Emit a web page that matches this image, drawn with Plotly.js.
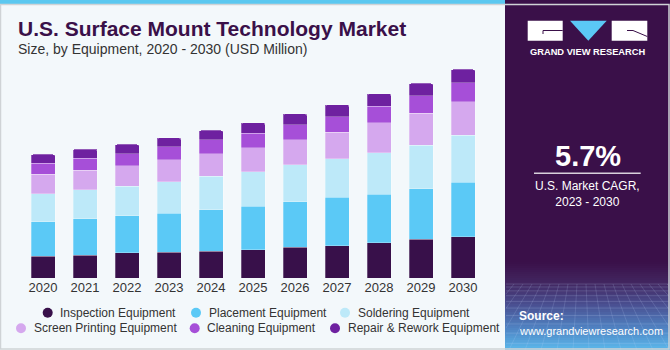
<!DOCTYPE html>
<html>
<head>
<meta charset="utf-8">
<script src="https://cdn.plot.ly/plotly-3.0.1.min.js"></script>
<style>html,body{margin:0;padding:0;background:#f3f8fb;}#chart{width:670px;height:350px;}</style>
</head>
<body>
<div id="chart"></div>
<script>
// ---- data (USD Million) ----
const years = ['2020','2021','2022','2023','2024','2025','2026','2027','2028','2029','2030'];
const seriesNames = ['Inspection Equipment','Placement Equipment','Soldering Equipment','Screen Printing Equipment','Cleaning Equipment','Repair & Rework Equipment'];
const inspection   = [170.8, 178.5, 194.1, 201.8, 209.6, 219.7, 238.3, 250.7, 274.0, 299.6, 320.6];
const placement    = [266.2, 281.8, 289.5, 302.7, 320.6, 336.1, 354.7, 374.9, 374.9, 393.5, 424.6];
const soldering    = [217.3, 225.1, 230.5, 243.0, 258.5, 269.3, 284.9, 300.4, 323.7, 339.2, 361.7];
const screenPrint  = [149.8, 152.9, 157.6, 170.8, 176.2, 186.3, 194.1, 207.2, 232.9, 245.3, 259.3];
const cleaning     = [ 88.5,  93.1,  93.1,  98.6, 108.7, 114.1, 116.4, 118.8, 129.6, 137.4, 147.5];
const repair       = [ 66.8,  69.9,  72.2,  69.9,  72.2,  79.9,  85.4,  93.1,  95.5,  95.5, 105.6];
const totalLabels  = ['$959.4M', '$99.1M'];
const cagrText = '5.7%';
const cagrLabel = 'U.S. Market CAGR,<br>2023 - 2030';

const seriesValues = [inspection, placement, soldering, screenPrint, cleaning, repair];
const colors = ['#38104a', '#5bc9f6', '#bde9f9', '#d5a8ee', '#a64fd8', '#6e21a0'];

// ---- geometry helpers ----
const W = 670, H = 350, ML = 22, MR = 186, MT = 60, MB = 72;
const PW = W - ML - MR, PH = H - MT - MB;
const px = x => (x - ML) / PW;
const py = y => (H - MB - y) / PH;
const FONT = 'Liberation Sans, Arial, sans-serif';

const traces = seriesValues.map((vals, i) => ({
  type: 'bar', x: years, y: vals, name: seriesNames[i],
  marker: {color: colors[i], line: {width: 0.6, color: 'rgba(255,255,255,0.45)'}},
  showlegend: false, hoverinfo: 'skip'
}));

const totals = years.map((_, j) => seriesValues.reduce((s, arr) => s + arr[j], 0));

const shapes = [];
const annotations = [];

// top blue stripe
shapes.push({type:'rect', xref:'paper', yref:'paper', x0:px(0), x1:px(506), y0:py(4.5), y1:py(0), fillcolor:'#5bc8f0', line:{width:0}, layer:'below'});

// right panel
shapes.push({type:'rect', xref:'paper', yref:'paper', x0:px(505), x1:px(670), y0:py(350), y1:py(0), fillcolor:'#3a1049', line:{width:0}, layer:'above'});
// bottom gradient of panel
const stops = [[262,[58,16,73]],[283,[66,38,96]],[305,[74,80,146]],[330,[80,135,198]],[350,[92,186,236]]];
function colAt(y){
  for(let k=0;k<stops.length-1;k++){
    const a=stops[k], b=stops[k+1];
    if(y>=a[0] && y<=b[0]){
      const t=(y-a[0])/(b[0]-a[0]);
      const c=a[1].map((v,i)=>Math.round(v+(b[1][i]-v)*t));
      return 'rgb('+c.join(',')+')';
    }
  }
  return 'rgb(92,186,236)';
}
for(let y=262; y<350; y+=2){
  shapes.push({type:'rect', xref:'paper', yref:'paper', x0:px(505), x1:px(670), y0:py(y+2.2), y1:py(y), fillcolor:colAt(y+1), line:{width:0}, layer:'above'});
}
// faint perspective grid (clipped to panel)
const PX0 = 506, PX1 = 669;
let gy = 284, step = 3;
while (gy < 350) {
  shapes.push({type:'line', xref:'paper', yref:'paper', x0:px(PX0), x1:px(PX1), y0:py(gy), y1:py(gy), line:{color:'rgba(200,220,255,0.18)', width:1}, layer:'above'});
  gy += step; step += 0.9;
}
for (let k = -10; k <= 26; k++) {
  let xa = 505 + k * 9, ya = 284;
  let xb = 505 + k * 16 - 60, yb = 350;
  // clip segment to [PX0, PX1]
  const clip = (xv) => { const t = (xv - xa) / (xb - xa); return [xv, ya + (yb - ya) * t]; };
  let p0 = [xa, ya], p1 = [xb, yb];
  if (xa < PX0 && xb < PX0) continue;
  if (xa > PX1 && xb > PX1) continue;
  if (p0[0] < PX0) p0 = clip(PX0);
  if (p0[0] > PX1) p0 = clip(PX1);
  if (p1[0] < PX0) p1 = clip(PX0);
  if (p1[0] > PX1) p1 = clip(PX1);
  shapes.push({type:'line', xref:'paper', yref:'paper', x0:px(p0[0]), x1:px(p1[0]), y0:py(p0[1]), y1:py(p1[1]), line:{color:'rgba(200,220,255,0.16)', width:1}, layer:'above'});
}

// logo
shapes.push({type:'rect', xref:'paper', yref:'paper', x0:px(527.7), x1:px(562.7), y0:py(40.7), y1:py(20.7), fillcolor:'#ffffff', line:{width:0}, layer:'above'});
shapes.push({type:'path', xref:'paper', yref:'paper', path:'M '+px(570)+','+py(20.7)+' L '+px(606.7)+','+py(20.7)+' L '+px(588.3)+','+py(40.7)+' Z', fillcolor:'#5bc8f5', line:{width:0}, layer:'above'});
shapes.push({type:'rect', xref:'paper', yref:'paper', x0:px(611.7), x1:px(647.3), y0:py(40.7), y1:py(20.7), fillcolor:'#ffffff', line:{width:0}, layer:'above'});
shapes.push({type:'path', xref:'paper', yref:'paper', path:'M '+px(543)+','+py(34)+' L '+px(543)+','+py(30.5)+' L '+px(562.7)+','+py(30.5), line:{color:'#3a1049', width:1}, layer:'above'});
shapes.push({type:'path', xref:'paper', yref:'paper', path:'M '+px(627)+','+py(30.5)+' L '+px(633)+','+py(30.5)+' L '+px(647.3)+','+py(36.5), line:{color:'#3a1049', width:1}, layer:'above'});
// CAGR underline
shapes.push({type:'line', xref:'paper', yref:'paper', x0:px(534), x1:px(640.7), y0:py(173.3), y1:py(173.3), line:{color:'#d8d0dc', width:1.5}, layer:'above'});

// outer border
shapes.push({type:'rect', xref:'paper', yref:'paper', x0:px(0.5), x1:px(669), y0:py(349), y1:py(4.5), fillcolor:'rgba(0,0,0,0)', line:{color:'#cfd3d6', width:1.5}, layer:'above'});

// texts
annotations.push({xref:'paper', yref:'paper', x:px(16), y:py(28.5), xanchor:'left', yanchor:'middle', showarrow:false,
  text:'<b>U.S. Surface Mount Technology Market</b>', font:{family:FONT, size:21, color:'#3a1049'}});
annotations.push({xref:'paper', yref:'paper', x:px(16), y:py(49), xanchor:'left', yanchor:'middle', showarrow:false,
  text:'Size, by Equipment, 2020 - 2030 (USD Million)', font:{family:FONT, size:14, color:'#333333'}});

// bar total labels
const labelShift = [11, 24.5];
totalLabels.forEach((t, j) => annotations.push({x: years[j], y: totals[j], xref:'x', yref:'y', yanchor:'bottom', xanchor:'center', yshift: labelShift[j], showarrow:false,
  text: t, font:{family:FONT, size:13.5, color:'#333333'}}));

// legend (manual, centered rows)
const legendPos = [[47.7,312.7],[196,312.7],[345,312.7],[21,328.3],[194.7,328.3],[335,328.3]];
seriesNames.forEach((n, i) => {
  const [lx, ly] = legendPos[i];
  shapes.push({type:'circle', xref:'paper', yref:'paper', xsizemode:'pixel', ysizemode:'pixel', xanchor:px(lx), yanchor:py(ly),
    x0:-5, x1:5, y0:-5, y1:5, fillcolor:colors[i], line:{width:0}, layer:'above'});
  annotations.push({xref:'paper', yref:'paper', x:px(lx+10.5), y:py(ly), xanchor:'left', yanchor:'middle', showarrow:false,
    text:n, font:{family:FONT, size:12, color:'#333333'}});
});

// panel texts
annotations.push({xref:'paper', yref:'paper', x:px(587.5), y:py(51.5), xanchor:'center', yanchor:'middle', showarrow:false,
  text:'<b>GRAND VIEW RESEARCH</b>', font:{family:FONT, size:9.3, color:'#ffffff'}});
annotations.push({xref:'paper', yref:'paper', x:px(587.5), y:py(156), xanchor:'center', yanchor:'middle', showarrow:false,
  text:'<b>'+cagrText+'</b>', font:{family:FONT, size:29, color:'#ffffff'}});
annotations.push({xref:'paper', yref:'paper', x:px(587.5), y:py(193.5), xanchor:'center', yanchor:'middle', showarrow:false,
  text:cagrLabel, font:{family:FONT, size:12, color:'#ffffff'}});
annotations.push({xref:'paper', yref:'paper', x:px(517), y:py(315.7), xanchor:'left', yanchor:'middle', showarrow:false,
  text:'<b>Source:</b>', font:{family:FONT, size:12, color:'#ffffff'}});
annotations.push({xref:'paper', yref:'paper', x:px(517), y:py(330.5), xanchor:'left', yanchor:'middle', showarrow:false,
  text:'www.grandviewresearch.com', font:{family:FONT, size:11, color:'#ffffff'}});

const layout = {
  width: W, height: H,
  margin: {l: ML, r: MR, t: MT, b: MB, pad: 0},
  paper_bgcolor: '#f3f8fb', plot_bgcolor: '#f3f8fb',
  barmode: 'stack', bargap: 1 - 24/42, barcornerradius: 2,
  showlegend: false,
  xaxis: {type:'category', range:[-0.5, 10.5], showgrid:false, zeroline:false, showline:false, ticks:'',
    tickfont:{family:FONT, size:13, color:'#333333'}, fixedrange:true},
  yaxis: {range:[0, PH * 959.4 / 123.6], visible:false, showgrid:false, zeroline:false, fixedrange:true},
  shapes: shapes, annotations: annotations
};

Plotly.newPlot('chart', traces, layout, {displayModeBar:false, staticPlot:true});
</script>
</body>
</html>
